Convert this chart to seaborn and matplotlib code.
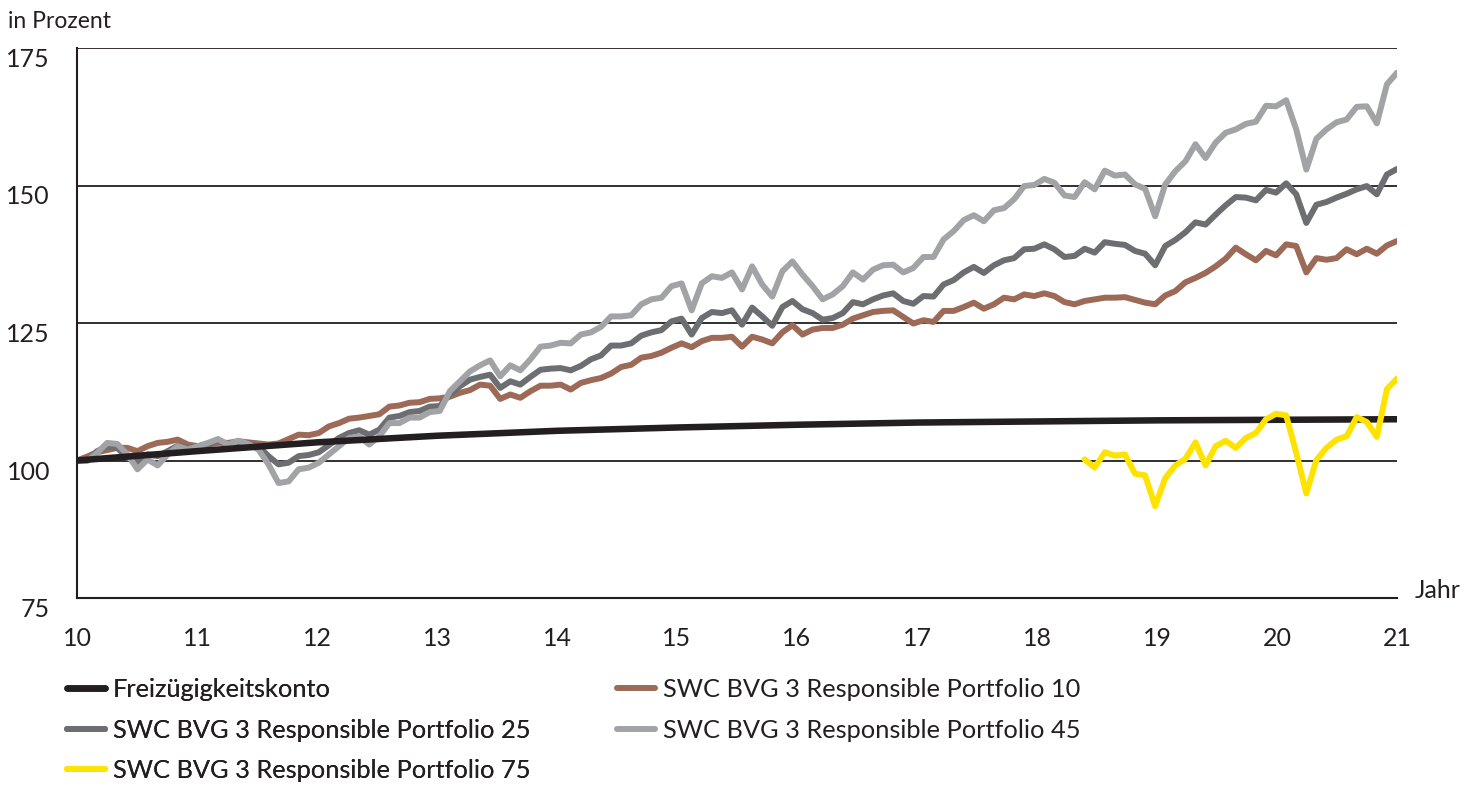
import numpy as np
import pandas as pd
import seaborn as sns
import matplotlib.pyplot as plt
import matplotlib.transforms as mtransforms

# monthly index values (Jan 2010 = 100), 132 months up to Dec 2020
p45 = [100, 99.9, 101.4, 103.2, 103, 101.1, 98.4, 100.2, 99.1, 101.1, 102.6, 102,
       102.6, 103.2, 103.9, 102.9, 103.6, 103, 102, 99.3, 95.9, 96.2, 98.4,
       98.7, 99.6, 101.1, 102.6, 104.1, 104.4, 102.9, 104.4, 106.8, 106.8, 107.8, 107.8,
       108.8, 109, 112.6, 114.4, 116.2, 117.3, 118.2, 115.3, 117.3, 116.4, 118.4, 120.7,
       120.9, 121.4, 121.3, 122.9, 123.3, 124.3, 126.2, 126.2, 126.4, 128.4, 129.3, 129.6,
       131.7, 132.2, 127.3, 132.2, 133.5, 133.2, 134.2, 131.1, 135.3, 132, 129.8, 134.4,
       136.2, 133.8, 131.7, 129.3, 130.2, 131.7, 134.2, 132.9, 134.7, 135.5, 135.6, 134.2,
       135, 137, 137, 140.2, 141.7, 143.7, 144.6, 143.5, 145.5, 145.9, 147.5, 149.9,
       150.1, 151.2, 150.5, 148.2, 147.9, 150.6, 149.3, 152.7, 151.8, 152, 150.2, 149.4, 144.4,
       150.2, 152.6, 154.4, 157.5, 155, 157.8, 159.6, 160.2, 161.2, 161.6,
       164.5, 164.4, 165.5, 160.2, 152.9, 158.5, 160.2, 161.5, 162, 164.3, 164.4, 161.3, 168.4, 170.5]

p25 = [100, 100, 101.7, 102.6, 102.3, 100.5, 99.6, 101.1, 100.8, 101.7, 102.7, 102.3,
       102.6, 102.9, 103.7, 102.9, 103.3, 103.1, 102.6, 100.8, 99.3, 99.6, 100.8,
       101, 101.5, 102.8, 104.1, 105, 105.5, 104.7, 105.6, 107.8, 108.1, 108.8, 109,
       109.8, 109.9, 112, 113.5, 114.7, 115.2, 115.6, 113.2, 114.4, 113.8, 115.2, 116.5,
       116.7, 116.8, 116.4, 117.2, 118.4, 119.1, 120.9, 120.9, 121.3, 122.7, 123.3, 123.7,
       125.3, 125.8, 122.9, 125.9, 127, 126.8, 127.3, 124.7, 127.8, 126.2, 124.5, 127.9,
       129, 127.5, 126.8, 125.6, 125.9, 126.8, 128.8, 128.4, 129.3, 130, 130.4, 129,
       128.5, 129.9, 129.8, 132, 132.8, 134.2, 135.2, 134.1, 135.5, 136.4, 136.8, 138.4,
       138.5, 139.3, 138.4, 137, 137.2, 138.5, 137.8, 139.7, 139.4, 139.2, 138.1, 137.6, 135.5,
       139, 140.1, 141.5, 143.3, 142.9, 144.7, 146.4, 147.9, 147.8, 147.3,
       149.2, 148.7, 150.4, 148.4, 143.2, 146.5, 147, 147.8, 148.5, 149.3, 149.9, 148.4, 152, 153]

p10 = [100, 100.7, 101.5, 101.9, 102.3, 102.3, 101.7, 102.6, 103.2, 103.4, 103.8, 102.9,
       102.6, 102.9, 103.2, 103.2, 103.5, 103.3, 103.1, 102.9, 103.1, 103.9, 104.7,
       104.6, 105, 106.2, 106.8, 107.6, 107.8, 108.1, 108.4, 109.8, 110, 110.5, 110.6,
       111.2, 111.3, 111.6, 112.3, 112.8, 113.8, 113.6, 111.2, 112, 111.4, 112.6, 113.6,
       113.6, 113.8, 112.9, 114.1, 114.6, 115, 115.8, 117, 117.4, 118.7, 119, 119.6,
       120.5, 121.3, 120.6, 121.7, 122.3, 122.3, 122.5, 120.7, 122.5, 122, 121.3, 123.3,
       124.6, 122.9, 123.8, 124.1, 124.1, 124.7, 125.8, 126.4, 127, 127.2, 127.3, 126.1,
       124.9, 125.5, 125.2, 127.2, 127.2, 127.9, 128.7, 127.6, 128.4, 129.6, 129.3, 130.2,
       129.9, 130.4, 129.9, 128.8, 128.4, 129, 129.3, 129.6, 129.6, 129.7, 129.2, 128.7, 128.4,
       130, 130.8, 132.4, 133.2, 134.1, 135.3, 136.7, 138.7, 137.5, 136.4,
       138.1, 137.3, 139.3, 139, 134.2, 136.8, 136.5, 136.8, 138.4, 137.5, 138.5, 137.6, 139.1, 139.9]

# Portfolio 75 starts in May 2018
p75 = [np.nan] * 100 + [
    100.2, 98.7, 101.5, 100.9, 101.1, 97.6, 97.3, 91.7, 96.8, 99.1, 100.3, 103.3,
    99.1, 102.6, 103.6, 102.3, 104.1, 105, 107.5, 108.5, 108.2, 101.4, 94, 100.1,
    102.3, 103.8, 104.4, 107.9, 107, 104.3, 113, 114.9]

# Freizuegigkeitskonto, yearly values
konto_years = list(range(10, 22))
konto = [100, 101.7, 103.3, 104.5, 105.4, 106.0, 106.5, 106.9, 107.1, 107.3, 107.4, 107.5]

year_ticks = list(range(10, 22))
y_ticks = [75, 100, 125, 150, 175]

lbl_konto = "Freizügigkeitskonto"
lbl_10 = "SWC BVG 3 Responsible Portfolio 10"
lbl_25 = "SWC BVG 3 Responsible Portfolio 25"
lbl_45 = "SWC BVG 3 Responsible Portfolio 45"
lbl_75 = "SWC BVG 3 Responsible Portfolio 75"

n = len(p10)
df = pd.DataFrame({"t": 10 + np.arange(n) * 11 / (n - 1),
                   "p10": p10, "p25": p25, "p45": p45, "p75": p75})
df_konto = pd.DataFrame({"t": konto_years, "v": konto})

sns.set_style("white")
plt.rcParams["font.family"] = ["Lato", "DejaVu Sans"]
ink = "#231f20"

fig = plt.figure(figsize=(14.78, 7.87), dpi=100)
ax = fig.add_axes([77 / 1478, 1 - 598 / 787, 1320 / 1478, 550 / 787])

lw = 4.3
sns.lineplot(data=df, x="t", y="p10", color="#9c6a57", lw=lw, label=lbl_10, ax=ax)
sns.lineplot(data=df, x="t", y="p25", color="#6d6e71", lw=lw, label=lbl_25, ax=ax)
sns.lineplot(data=df, x="t", y="p45", color="#a2a3a6", lw=lw, label=lbl_45, ax=ax)
sns.lineplot(data=df_konto, x="t", y="v", color=ink, lw=4.7, label=lbl_konto, ax=ax)
sns.lineplot(data=df, x="t", y="p75", color="#ffe300", lw=lw, label=lbl_75, ax=ax)

ax.set_xlim(10, 21)
ax.set_ylim(75, 175)
ax.set_xlabel("")
ax.set_ylabel("")
ax.set_xticks(year_ticks)
ax.set_xticklabels([str(y) for y in year_ticks])
ax.set_yticks(y_ticks)
ax.set_yticklabels([])

# y labels hang below their grid line, well left of the axis
ytrans = mtransforms.blended_transform_factory(ax.transAxes, ax.transData)
for v in y_ticks:
    ax.text(-27 / 1320, v, str(v), transform=ytrans, ha="right", va="top",
            fontsize=18, color=ink)

ax.grid(False)
ax.yaxis.grid(True, color=ink, lw=1.3)
ax.set_axisbelow(True)
for s in ["top", "right"]:
    ax.spines[s].set_visible(False)
for s in ["left", "bottom"]:
    ax.spines[s].set_color(ink)
    ax.spines[s].set_linewidth(1.5)
ax.tick_params(axis="x", direction="in", length=9.5, width=1.2, color=ink,
               pad=21, labelsize=18, labelcolor=ink)
ax.tick_params(axis="y", length=0)

ax.text(1.0136, 0, "Jahr", transform=ax.transAxes, fontsize=18, color=ink,
        ha="left", va="baseline")
fig.text(8 / 1478, 1 - 28 / 787, "in Prozent", fontsize=16.5, color=ink,
         ha="left", va="baseline")

handles, labels = ax.get_legend_handles_labels()
hmap = dict(zip(labels, handles))
ax.get_legend().remove()
leg_kw = dict(loc="upper left", frameon=False, fontsize=18.3, handlelength=1.5,
              handletextpad=0.31, labelspacing=0.69, borderpad=0, borderaxespad=0,
              labelcolor=ink)
leg1 = fig.legend([hmap[l] for l in [lbl_konto, lbl_25, lbl_75]],
                  [lbl_konto, lbl_25, lbl_75],
                  bbox_to_anchor=(67 / 1478, 1 - 678 / 787), **leg_kw)
fig.legend([hmap[l] for l in [lbl_10, lbl_45]], [lbl_10, lbl_45],
           bbox_to_anchor=(617 / 1478, 1 - 678 / 787), **leg_kw)
fig.add_artist(leg1)

fig.savefig("out.png", dpi=100)
